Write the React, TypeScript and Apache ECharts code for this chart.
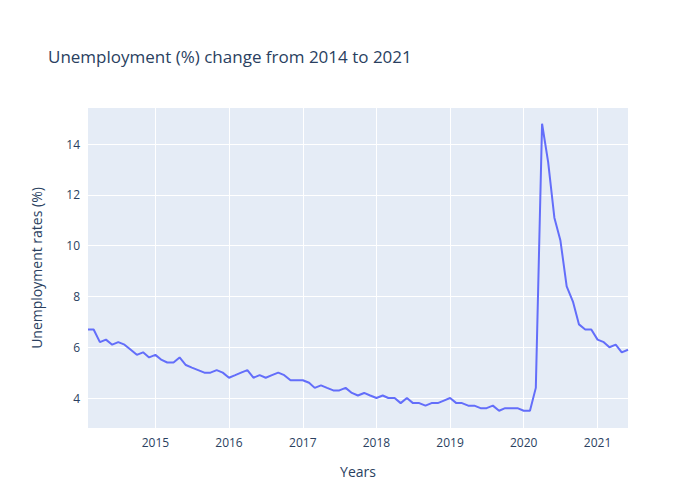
import { useRef, useEffect } from 'react';
import * as echarts from 'echarts';

// Monthly unemployment rate, Feb 2014 .. Jun 2021
const startYear = 2014;
const startMonth = 1; // 0-based: February
const rates = [
  6.7, 6.7, 6.2, 6.3, 6.1, 6.2, 6.1, 5.9, 5.7, 5.8, 5.6,
  5.7, 5.5, 5.4, 5.4, 5.6, 5.3, 5.2, 5.1, 5.0, 5.0, 5.1, 5.0,
  4.8, 4.9, 5.0, 5.1, 4.8, 4.9, 4.8, 4.9, 5.0, 4.9, 4.7, 4.7,
  4.7, 4.6, 4.4, 4.5, 4.4, 4.3, 4.3, 4.4, 4.2, 4.1, 4.2, 4.1,
  4.0, 4.1, 4.0, 4.0, 3.8, 4.0, 3.8, 3.8, 3.7, 3.8, 3.8, 3.9,
  4.0, 3.8, 3.8, 3.7, 3.7, 3.6, 3.6, 3.7, 3.5, 3.6, 3.6, 3.6,
  3.5, 3.5, 4.4, 14.8, 13.3, 11.1, 10.2, 8.4, 7.8, 6.9, 6.7, 6.7,
  6.3, 6.2, 6.0, 6.1, 5.8, 5.9,
];
const yearTicks = [2015, 2016, 2017, 2018, 2019, 2020, 2021];
const yTicks = [4, 6, 8, 10, 12, 14];

export default function App() {
  const ref = useRef<HTMLDivElement>(null);

  useEffect(() => {
    if (!ref.current) return;
    const chart = echarts.init(ref.current, undefined, { renderer: 'svg' });
    const data = rates.map((v, i) => [Date.UTC(startYear, startMonth + i, 1), v]);
    const yearTs = yearTicks.map((y) => Date.UTC(y, 0, 1));
    const font = '"Open Sans", sans-serif';

    chart.setOption({
      animation: false,
      textStyle: { fontFamily: font },
      title: {
        text: 'Unemployment (%) change from 2014 to 2021',
        left: 35,
        top: 35,
        textStyle: { fontSize: 17, fontWeight: 'normal', color: '#2a3f5f', fontFamily: font },
      },
      grid: {
        left: 80, right: 80, top: 100, bottom: 80,
        show: true, backgroundColor: '#E5ECF6', borderWidth: 0,
      },
      xAxis: {
        type: 'value',
        min: data[0][0],
        max: data[data.length - 1][0],
        name: 'Years',
        nameLocation: 'middle',
        nameGap: 36,
        nameTextStyle: { fontSize: 14, color: '#2a3f5f' },
        axisLine: { show: false },
        axisTick: { show: false, customValues: yearTs },
        axisLabel: {
          customValues: yearTs,
          color: '#2a3f5f',
          fontSize: 12,
          formatter: (v: number) => String(new Date(v).getUTCFullYear()),
        },
        splitLine: { show: true, lineStyle: { color: '#fff', width: 1 } },
      },
      yAxis: {
        type: 'value',
        min: 2.82,
        max: 15.42,
        name: 'Unemployment rates (%)',
        nameLocation: 'middle',
        nameGap: 45,
        nameTextStyle: { fontSize: 14, color: '#2a3f5f' },
        axisLine: { show: false },
        axisTick: { show: false, customValues: yTicks },
        axisLabel: { customValues: yTicks, color: '#2a3f5f', fontSize: 12 },
        splitLine: { show: true, lineStyle: { color: '#fff', width: 1 } },
      },
      series: [
        {
          type: 'line',
          data,
          showSymbol: false,
          lineStyle: { color: '#636efa', width: 2 },
          itemStyle: { color: '#636efa' },
        },
      ],
    });
    return () => chart.dispose();
  }, []);

  return <div ref={ref} style={{ width: 700, height: 500 }} />;
}
